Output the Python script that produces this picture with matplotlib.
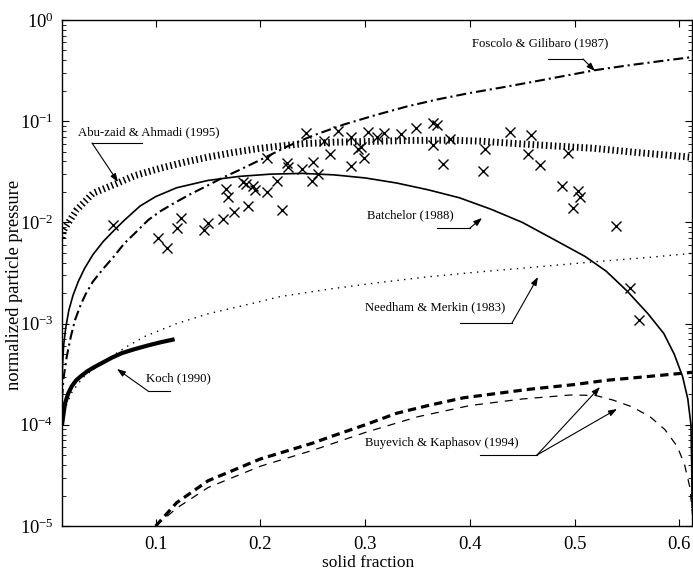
import numpy as np
import matplotlib
matplotlib.use("Agg")
import matplotlib.pyplot as plt
from matplotlib.ticker import LogLocator, FixedLocator, NullFormatter

plt.rcParams["font.family"] = ["Liberation Serif", "DejaVu Serif"]
plt.rcParams["mathtext.fontset"] = "stix"

# Measured particle pressure (solid fraction, normalized pressure)
meas_phi = [0.059, 0.102, 0.1105, 0.1207, 0.124, 0.146, 0.150, 0.1646, 0.1748, 0.167,
            0.169, 0.188, 0.183, 0.186, 0.193, 0.195, 0.2066, 0.216, 0.221, 0.206,
            0.225, 0.226, 0.240, 0.2436, 0.2505, 0.249, 0.2547, 0.261, 0.266, 0.274,
            0.2865, 0.286, 0.2935, 0.296, 0.299, 0.303, 0.311, 0.318, 0.334, 0.3486,
            0.3645, 0.369, 0.3645, 0.381, 0.374, 0.4384, 0.458, 0.4139, 0.4123, 0.455,
            0.4664, 0.494, 0.4878, 0.5036, 0.5046, 0.498, 0.5396, 0.553, 0.561]
meas_p = [9.4e-3, 7.06e-3, 5.55e-3, 8.87e-3, 1.11e-2, 8.4e-3, 9.9e-3, 1.07e-2, 1.28e-2, 2.12e-2,
          1.80e-2, 1.46e-2, 2.5e-2, 2.4e-2, 2.3e-2, 2.1e-2, 2.01e-2, 2.56e-2, 1.33e-2, 4.30e-2,
          3.84e-2, 3.5e-2, 3.34e-2, 7.7e-2, 3.98e-2, 2.56e-2, 3.0e-2, 6.42e-2, 4.71e-2, 8.05e-2,
          7.03e-2, 3.61e-2, 5.27e-2, 5.52e-2, 4.30e-2, 7.87e-2, 7.03e-2, 7.59e-2, 7.48e-2, 8.5e-2,
          9.66e-2, 9.17e-2, 5.82e-2, 6.67e-2, 3.78e-2, 7.87e-2, 7.31e-2, 5.27e-2, 3.24e-2, 4.71e-2,
          3.69e-2, 4.81e-2, 2.29e-2, 2.06e-2, 1.80e-2, 1.38e-2, 9.2e-3, 2.23e-3, 1.09e-3]

# Batchelor (1988)
batch_phi = [0.0105, 0.012, 0.014, 0.017, 0.021, 0.026, 0.032, 0.04, 0.05, 0.06, 0.07, 0.085,
             0.10, 0.12, 0.15, 0.18, 0.21, 0.24, 0.27, 0.30, 0.33, 0.36, 0.39, 0.42, 0.45,
             0.48, 0.51, 0.53, 0.55, 0.57, 0.585, 0.595, 0.603, 0.608, 0.611, 0.6117,
             0.6121]
batch_p = [3.0e-4, 6.0e-4, 9.0e-4, 1.35e-3, 1.9e-3, 2.6e-3, 3.5e-3, 4.8e-3, 6.5e-3, 8.3e-3,
           1.05e-2, 1.45e-2, 1.8e-2, 2.2e-2, 2.6e-2, 2.85e-2, 3.0e-2, 3.05e-2, 2.95e-2, 2.75e-2,
           2.45e-2, 2.1e-2, 1.75e-2, 1.35e-2, 1.0e-2, 6.8e-3, 4.6e-3, 3.3e-3, 2.1e-3, 1.25e-3,
           8.0e-4, 5.0e-4, 3.0e-4, 1.8e-4, 1.0e-4, 4.0e-5, 1.5e-5]

# Foscolo & Gilibaro (1987)
fosc_phi = [0.0105, 0.0118, 0.015, 0.019, 0.023, 0.028, 0.033, 0.04, 0.05, 0.06, 0.07, 0.08,
            0.093, 0.105, 0.117, 0.133, 0.149, 0.165, 0.18, 0.203, 0.225, 0.25, 0.28, 0.31,
            0.34, 0.37, 0.40, 0.43, 0.46, 0.49, 0.52, 0.55, 0.58, 0.612]
fosc_p = [1.8e-4, 2.8e-4, 4.7e-4, 7.5e-4, 1.09e-3, 1.5e-3, 1.95e-3, 2.6e-3, 3.5e-3, 4.6e-3,
          6.2e-3, 7.8e-3, 1.06e-2, 1.3e-2, 1.54e-2, 1.9e-2, 2.3e-2, 2.8e-2, 3.3e-2, 4.3e-2,
          5.6e-2, 7.2e-2, 9.3e-2, 0.115, 0.14, 0.165, 0.19, 0.215, 0.245, 0.28, 0.32, 0.355,
          0.39, 0.43]

# Abu-zaid & Ahmadi (1995)
abu_phi = [0.0105, 0.012, 0.0245, 0.04, 0.063, 0.08, 0.104, 0.128, 0.152, 0.176, 0.20, 0.22,
           0.241, 0.27, 0.3015, 0.34, 0.381, 0.41, 0.445, 0.48, 0.518, 0.56, 0.612]
abu_p = [7.0e-3, 8.4e-3, 1.33e-2, 1.94e-2, 2.43e-2, 2.9e-2, 3.42e-2, 3.95e-2, 4.46e-2, 4.95e-2,
         5.4e-2, 5.7e-2, 6.0e-2, 6.2e-2, 6.3e-2, 6.45e-2, 6.5e-2, 6.35e-2, 6.0e-2, 5.7e-2,
         5.4e-2, 4.9e-2, 4.4e-2]

# Needham & Merkin (1983)
need_phi = [0.0105, 0.015, 0.02, 0.03, 0.04, 0.047, 0.06, 0.072, 0.09, 0.12, 0.15, 0.193,
            0.219, 0.2665, 0.314, 0.36, 0.41, 0.46, 0.521, 0.57, 0.612]
need_p = [1.0e-4, 1.6e-4, 2.1e-4, 2.9e-4, 3.5e-4, 3.9e-4, 4.9e-4, 5.9e-4, 7.5e-4, 1.0e-3,
          1.25e-3, 1.59e-3, 1.85e-3, 2.2e-3, 2.55e-3, 2.9e-3, 3.25e-3, 3.6e-3, 4.1e-3, 4.5e-3,
          4.95e-3]

# Koch (1990)
koch_phi = [0.0105, 0.0134, 0.0165, 0.0198, 0.024, 0.029, 0.035, 0.042, 0.05, 0.058, 0.0675,
            0.08, 0.093, 0.105, 0.118]
koch_p = [1.0e-4, 1.63e-4, 2.05e-4, 2.4e-4, 2.75e-4, 3.05e-4, 3.4e-4, 3.75e-4, 4.15e-4,
          4.6e-4, 5.1e-4, 5.6e-4, 6.1e-4, 6.55e-4, 7.0e-4]

# Buyevich & Kaphasov (1994), two branches
buy1_phi = [0.10, 0.12, 0.15, 0.20, 0.25, 0.2665, 0.30, 0.33, 0.36, 0.394, 0.435, 0.4575,
            0.50, 0.53, 0.57, 0.612]
buy1_p = [1.0e-5, 1.7e-5, 2.8e-5, 4.6e-5, 6.6e-5, 7.6e-5, 1.0e-4, 1.3e-4, 1.55e-4, 1.85e-4,
          2.1e-4, 2.25e-4, 2.5e-4, 2.75e-4, 3.0e-4, 3.3e-4]
buy2_phi = [0.10, 0.12, 0.15, 0.20, 0.25, 0.30, 0.35, 0.40, 0.45, 0.496, 0.52, 0.537, 0.555,
            0.572, 0.586, 0.598, 0.605, 0.61, 0.6135]
buy2_p = [1.0e-5, 1.5e-5, 2.4e-5, 3.9e-5, 5.6e-5, 8.4e-5, 1.2e-4, 1.55e-4, 1.8e-4, 1.97e-4,
          1.95e-4, 1.75e-4, 1.5e-4, 1.2e-4, 9.0e-5, 6.1e-5, 4.0e-5, 2.4e-5, 1.0e-5]

xticks = [0.1, 0.2, 0.3, 0.4, 0.5, 0.6]

fig = plt.figure(figsize=(6.93, 5.74), dpi=100)
ax = fig.add_axes([62 / 693, 48 / 574, 630 / 693, 506 / 574])

ax.plot(batch_phi, batch_p, color="k", lw=1.2, solid_capstyle="butt")
ax.plot(fosc_phi, fosc_p, color="k", lw=1.5, ls=(0, (4.8, 1.9, 1.0, 1.9)))
ax.plot(abu_phi, abu_p, color="k", lw=5.0, ls=(0, (0.22, 0.42)))
ax.plot(need_phi, need_p, color="k", lw=1.0, ls=(0, (1.0, 3.8)))
ax.plot(koch_phi, koch_p, color="k", lw=3.0, solid_capstyle="butt")
ax.plot(buy1_phi, buy1_p, color="k", lw=2.3, ls=(0, (2.6, 1.6)))
ax.plot(buy2_phi, buy2_p, color="k", lw=0.9, ls=(0, (6.4, 5.6)))
ax.plot(meas_phi, meas_p, ls="none", marker="x", ms=7.5, mew=1.0, color="k")

ax.set_yscale("log")
ax.set_xlim(0.0105, 0.612)
ax.set_ylim(1e-5, 1)
ax.xaxis.set_major_locator(FixedLocator(xticks))
ax.set_xticklabels([f"{t:.1f}" for t in xticks])
ax.yaxis.set_major_locator(LogLocator(base=10, numticks=10))
ax.yaxis.set_minor_locator(LogLocator(base=10, subs=np.arange(2, 10), numticks=10))
ax.yaxis.set_minor_formatter(NullFormatter())
ax.tick_params(which="both", direction="in", top=True, right=True)
ax.tick_params(axis="x", labelsize=13.5, pad=7)
ax.tick_params(axis="y", labelsize=13.3, pad=6)
ax.tick_params(which="major", length=5, width=0.8)
ax.tick_params(which="minor", length=3, width=0.6)
for s in ax.spines.values():
    s.set_linewidth(1.0)

ax.set_xlabel("solid fraction", fontsize=12.5, labelpad=2)
ax.xaxis.set_label_coords(0.486, -0.058)
ax.set_ylabel("normalized particle pressure", fontsize=13.3)
ax.yaxis.set_label_coords(-0.062, 0.476)

arrow = dict(arrowstyle="-|>,head_length=0.5,head_width=0.18", color="k", lw=0.8,
             shrinkA=0, shrinkB=0)
tfs = 9.2


def px(x, y):
    # pixel position (from top-left of the figure) to figure fraction
    return (x / 693, 1 - y / 574)


def label_with_leader(text, tx, ty, line, tips):
    fig.text(*px(tx, ty), text, fontsize=tfs, ha="left", va="center")
    (x0, y0), (x1, y1) = line
    fig.add_artist(plt.Line2D([x0 / 693, x1 / 693], [1 - y0 / 574, 1 - y1 / 574],
                              color="k", lw=0.8))
    for tip in tips:
        ax.annotate("", xy=px(*tip), xycoords="figure fraction",
                    xytext=px(x1, y1), textcoords="figure fraction", arrowprops=arrow)


label_with_leader("Foscolo & Gilibaro (1987)", 472, 43, ((548, 59), (583, 59)), [(595, 71)])
label_with_leader("Abu-zaid & Ahmadi (1995)", 78, 132, ((142, 143), (92, 143)), [(118, 182)])
label_with_leader("Batchelor (1988)", 367, 215, ((437, 228), (470, 228)), [(482, 218)])
label_with_leader("Needham & Merkin (1983)", 365, 307, ((460, 323), (512, 323)), [(538, 277)])
label_with_leader("Koch (1990)", 146, 378, ((170, 391), (148, 391)), [(117, 369)])
label_with_leader("Buyevich & Kaphasov (1994)", 365, 443, ((480, 455), (537, 455)),
                  [(600, 387), (617, 409)])

fig.savefig("out.png", dpi=100)
